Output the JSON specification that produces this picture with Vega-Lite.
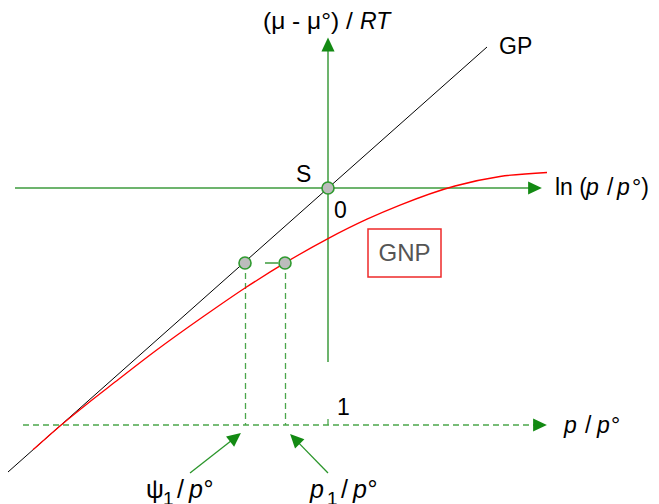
{
  "$schema": "https://vega.github.io/schema/vega-lite/v6.json",
  "width": 659,
  "height": 504,
  "padding": 0,
  "autosize": {"type": "none"},
  "background": "white",
  "config": {"view": {"stroke": null}, "text": {"font": "Liberation Sans"}},
  "datasets": {
    "gp": [{"x": -3.20, "y": -2.84}, {"x": 1.59, "y": 1.41}],
    "gnp": [
      {"x": -2.95, "y": -2.618}, {"x": -2.68, "y": -2.379}, {"x": -2.41, "y": -2.159},
      {"x": -2.13, "y": -1.941}, {"x": -1.71, "y": -1.618}, {"x": -1.25, "y": -1.288},
      {"x": -0.83, "y": -1.00}, {"x": -0.43, "y": -0.749}, {"x": 0, "y": -0.506},
      {"x": 0.39, "y": -0.312}, {"x": 0.72, "y": -0.171}, {"x": 1.27, "y": 0.02},
      {"x": 1.72, "y": 0.115}, {"x": 2.19, "y": 0.155}
    ],
    "axes": [
      {"x": -3.13, "y": 0, "x2": 2.02, "y2": 0},
      {"x": 0, "y": -1.74, "x2": 0, "y2": 1.38},
      {"x": -0.63, "y": -0.75, "x2": -0.50, "y2": -0.75}
    ],
    "dashed": [
      {"x": -3.05, "y": -2.37, "x2": 2.06, "y2": -2.37},
      {"x": -0.825, "y": -0.75, "x2": -0.825, "y2": -2.37},
      {"x": -0.425, "y": -0.75, "x2": -0.425, "y2": -2.37},
      {"x": 0, "y": -2.31, "x2": 0, "y2": -2.37}
    ],
    "arrows": [
      {"x": -1.38, "y": -2.85, "x2": -0.965, "y2": -2.524},
      {"x": 0, "y": -2.85, "x2": -0.296, "y2": -2.546}
    ],
    "heads": [
      {"x": 2.07, "y": 0, "dir": 0},
      {"x": 0, "y": 1.435, "dir": 270},
      {"x": 2.12, "y": -2.37, "dir": 0},
      {"x": -0.925, "y": -2.493, "dir": 321.9},
      {"x": -0.331, "y": -2.51, "dir": 225.7}
    ],
    "points": [{"x": 0, "y": 0}, {"x": -0.83, "y": -0.75}, {"x": -0.43, "y": -0.75}],
    "box": [{"x": 0.40, "x2": 1.13, "y": -0.41, "y2": -0.89}],
    "labels": [
      {"x": -0.65, "y": 1.59, "text": "(μ - μ°) /", "kind": "title"},
      {"x": 0.32, "y": 1.59, "text": "RT", "kind": "italic"},
      {"x": 1.71, "y": 1.34, "text": "GP", "kind": "normal"},
      {"x": -0.32, "y": 0.06, "text": "S", "kind": "normal"},
      {"x": 0.06, "y": -0.30, "text": "0", "kind": "normal"},
      {"x": 0.09, "y": -2.27, "text": "1", "kind": "normal"},
      {"x": 2.27, "y": -0.07, "text": "ln (", "kind": "normal"},
      {"x": 2.58, "y": -0.07, "text": "p", "kind": "italic"},
      {"x": 2.79, "y": -0.07, "text": "/", "kind": "normal"},
      {"x": 2.89, "y": -0.07, "text": "p", "kind": "italic"},
      {"x": 3.04, "y": -0.07, "text": "°)", "kind": "normal"},
      {"x": 2.36, "y": -2.45, "text": "p", "kind": "italic"},
      {"x": 2.57, "y": -2.45, "text": "/", "kind": "normal"},
      {"x": 2.69, "y": -2.45, "text": "p", "kind": "italic"},
      {"x": 2.83, "y": -2.45, "text": "°", "kind": "normal"},
      {"x": -1.82, "y": -3.10, "text": "ψ", "kind": "bot"},
      {"x": -1.65, "y": -3.165, "text": "1", "kind": "sub"},
      {"x": -1.51, "y": -3.10, "text": "/", "kind": "bot"},
      {"x": -1.39, "y": -3.10, "text": "p", "kind": "botit"},
      {"x": -1.245, "y": -3.10, "text": "°", "kind": "bot"},
      {"x": -0.18, "y": -3.10, "text": "p", "kind": "botit"},
      {"x": -0.01, "y": -3.165, "text": "1", "kind": "sub"},
      {"x": 0.13, "y": -3.10, "text": "/", "kind": "bot"},
      {"x": 0.25, "y": -3.10, "text": "p", "kind": "botit"},
      {"x": 0.395, "y": -3.10, "text": "°", "kind": "bot"},
      {"x": 0.765, "y": -0.73, "text": "GNP", "kind": "box"}
    ]
  },
  "encoding": {
    "x": {"field": "x", "type": "quantitative", "scale": {"domain": [-3.28, 3.31], "nice": false, "zero": false}, "axis": null},
    "y": {"field": "y", "type": "quantitative", "scale": {"domain": [-3.16, 1.88], "nice": false, "zero": false}, "axis": null}
  },
  "layer": [
    {
      "data": {"name": "dashed"},
      "mark": {"type": "rule", "color": "#4ba64b", "strokeWidth": 1.3, "strokeDash": [6, 4]},
      "encoding": {"x2": {"field": "x2"}, "y2": {"field": "y2"}}
    },
    {
      "data": {"name": "axes"},
      "mark": {"type": "rule", "color": "#3d9b3d", "strokeWidth": 1.5},
      "encoding": {"x2": {"field": "x2"}, "y2": {"field": "y2"}}
    },
    {
      "data": {"name": "arrows"},
      "mark": {"type": "rule", "color": "#2a952a", "strokeWidth": 1.3},
      "encoding": {"x2": {"field": "x2"}, "y2": {"field": "y2"}}
    },
    {
      "data": {"name": "gp"},
      "mark": {"type": "line", "color": "#000000", "strokeWidth": 1},
      "encoding": {}
    },
    {
      "data": {"name": "gnp"},
      "mark": {"type": "line", "color": "#ff0000", "strokeWidth": 1.3, "interpolate": "monotone"},
      "encoding": {}
    },
    {
      "data": {"name": "heads"},
      "mark": {"type": "point", "shape": "M 1 0 L -1 -0.95 L -1 0.95 Z", "filled": true, "color": "#138a13", "opacity": 1, "size": 190, "strokeWidth": 0},
      "encoding": {"angle": {"field": "dir", "type": "quantitative", "scale": null}}
    },
    {
      "data": {"name": "points"},
      "mark": {"type": "point", "shape": "circle", "filled": true, "fill": "#bcbcbc", "stroke": "#2f9a2f", "strokeWidth": 1.6, "opacity": 1, "fillOpacity": 1, "strokeOpacity": 1, "size": 145}
    },
    {
      "data": {"name": "box"},
      "mark": {"type": "rect", "fill": "white", "stroke": "#ee2a2a", "strokeWidth": 1.5},
      "encoding": {"x2": {"field": "x2"}, "y2": {"field": "y2"}}
    },
    {
      "data": {"name": "labels"},
      "transform": [{"filter": "datum.kind === 'normal'"}],
      "mark": {"type": "text", "align": "left", "baseline": "alphabetic", "fontSize": 23, "color": "#000000"},
      "encoding": {"text": {"field": "text"}}
    },
    {
      "data": {"name": "labels"},
      "transform": [{"filter": "datum.kind === 'title'"}],
      "mark": {"type": "text", "align": "left", "baseline": "alphabetic", "fontSize": 24.5, "color": "#000000"},
      "encoding": {"text": {"field": "text"}}
    },
    {
      "data": {"name": "labels"},
      "transform": [{"filter": "datum.kind === 'italic'"}],
      "mark": {"type": "text", "align": "left", "baseline": "alphabetic", "fontSize": 23, "fontStyle": "italic", "color": "#000000"},
      "encoding": {"text": {"field": "text"}}
    },
    {
      "data": {"name": "labels"},
      "transform": [{"filter": "datum.kind === 'bot'"}],
      "mark": {"type": "text", "align": "left", "baseline": "alphabetic", "fontSize": 25, "color": "#000000"},
      "encoding": {"text": {"field": "text"}}
    },
    {
      "data": {"name": "labels"},
      "transform": [{"filter": "datum.kind === 'botit'"}],
      "mark": {"type": "text", "align": "left", "baseline": "alphabetic", "fontSize": 25, "fontStyle": "italic", "color": "#000000"},
      "encoding": {"text": {"field": "text"}}
    },
    {
      "data": {"name": "labels"},
      "transform": [{"filter": "datum.kind === 'sub'"}],
      "mark": {"type": "text", "align": "left", "baseline": "alphabetic", "fontSize": 19, "color": "#000000"},
      "encoding": {"text": {"field": "text"}}
    },
    {
      "data": {"name": "labels"},
      "transform": [{"filter": "datum.kind === 'box'"}],
      "mark": {"type": "text", "align": "center", "baseline": "alphabetic", "fontSize": 24, "color": "#555555"},
      "encoding": {"text": {"field": "text"}}
    }
  ]
}
